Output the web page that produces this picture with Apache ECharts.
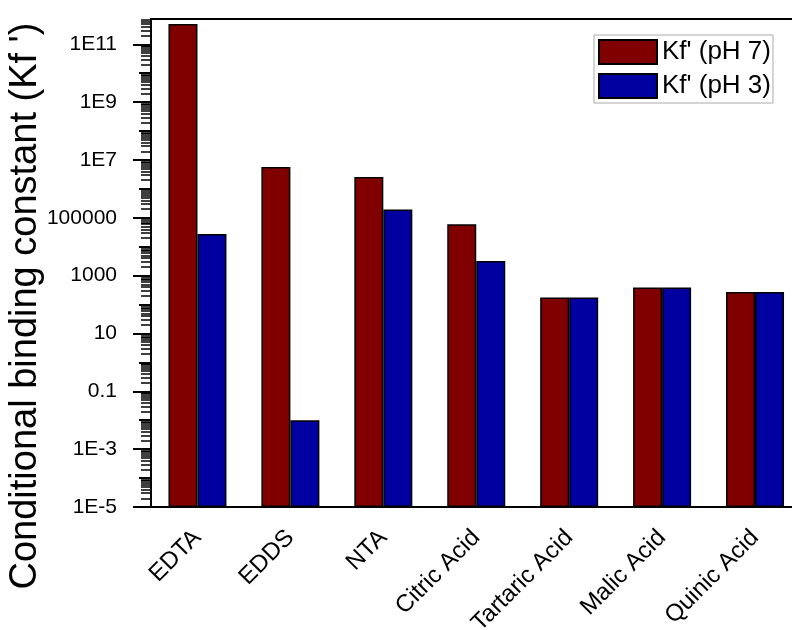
<!DOCTYPE html>
<html>
<head>
<meta charset="utf-8">
<script src="https://cdn.jsdelivr.net/npm/echarts@6/dist/echarts.min.js"></script>
<style>
  html, body { margin: 0; padding: 0; background: #fff; }
  #chart { width: 792px; height: 630px; }
</style>
</head>
<body>
<div id="chart"></div>
<script>
// Conditional binding constants of the chelators at two pH values
const categories = ['EDTA', 'EDDS', 'NTA', 'Citric Acid', 'Tartaric Acid', 'Malic Acid', 'Quinic Acid'];
const kfPH7 = [5.0e11, 5.7e6, 2.6e6, 6.0e4, 176, 390, 270];
const kfPH3 = [2.75e4, 0.01, 1.95e5, 3.2e3, 176, 390, 270];
const seriesNames = ["Kf' (pH 7)", "Kf' (pH 3)"];

// Log axis range and tick positions
const yMin = 1e-5;
const yMax = 7.5e11;
const labelTicks = [1e-5, 1e-3, 0.1, 10, 1000, 1e5, 1e7, 1e9, 1e11];
const decadeTicks = [1e-4, 1e-2, 1, 100, 1e4, 1e6, 1e8, 1e10];
const minorTicks = [];
for (let k = -5; k <= 11; k++) {
  for (let m = 2; m <= 9; m++) {
    const v = Number((m + 'e' + k));
    if (v <= yMax) minorTicks.push(v);
  }
}

function formatTick(v) {
  const e = Math.round(Math.log10(v));
  if (e >= -1 && e <= 5) return String(Number(('1e' + e)));
  return '1E' + e;
}

const font = 'Liberation Sans, Arial, sans-serif';

function logAxis(extra) {
  return Object.assign({
    type: 'log',
    logBase: 10,
    min: yMin,
    max: yMax,
    position: 'left',
    offset: 0,
    splitLine: { show: false },
    minorTick: { show: false },
    axisLine: { show: true, lineStyle: { color: '#000', width: 2 } },
    axisLabel: { show: false },
    axisTick: { show: false }
  }, extra);
}

const chart = echarts.init(document.getElementById('chart'), null, { renderer: 'canvas' });

chart.setOption({
  animation: false,
  backgroundColor: '#fff',
  grid: {
    left: 151, top: 19, right: -9.5, bottom: 123,
    show: true, borderColor: '#000', borderWidth: 2,
    containLabel: false,
    outerBoundsMode: 'none'
  },
  legend: {
    orient: 'vertical',
    left: 594,
    top: 35,
    padding: [4, 2, 4, 4],
    icon: 'rect',
    itemWidth: 58,
    itemHeight: 24,
    itemGap: 8,
    borderColor: '#aaa',
    borderWidth: 1,
    backgroundColor: '#fff',
    textStyle: { fontFamily: font, fontSize: 26, color: '#000', lineHeight: 24 },
    data: seriesNames
  },
  xAxis: {
    type: 'category',
    data: categories,
    axisLine: { show: true, lineStyle: { color: '#000', width: 2 } },
    axisTick: { show: false },
    axisLabel: {
      rotate: 45,
      margin: 27,
      interval: 0,
      fontFamily: font,
      fontSize: 24,
      color: '#000'
    },
    splitLine: { show: false }
  },
  yAxis: [
    logAxis({
      startValue: yMin,
      name: "Conditional binding constant (Kf ')",
      nameLocation: 'middle',
      nameRotate: 90,
      nameGap: 106,
      nameMoveOverlap: false,
      nameTextStyle: { fontFamily: font, fontSize: 38, color: '#000', padding: [0, 86, 0, 0] },
      axisLabel: {
        show: true,
        customValues: labelTicks,
        formatter: formatTick,
        margin: 34,
        fontFamily: font,
        fontSize: 21,
        color: '#000'
      },
      axisTick: { show: true, customValues: labelTicks, length: 18, lineStyle: { color: '#000', width: 2 } }
    }),
    logAxis({
      axisTick: { show: true, customValues: decadeTicks, length: 12, lineStyle: { color: '#000', width: 2 } }
    }),
    logAxis({
      axisTick: { show: true, customValues: minorTicks, length: 10, lineStyle: { color: '#000', width: 1.5 } }
    })
  ],
  series: [
    {
      name: seriesNames[0],
      type: 'bar',
      yAxisIndex: 0,
      data: kfPH7,
      barWidth: 29,
      barGap: '0%',
      itemStyle: { color: '#800000', borderColor: '#000', borderWidth: 1.5 }
    },
    {
      name: seriesNames[1],
      type: 'bar',
      yAxisIndex: 0,
      data: kfPH3,
      barWidth: 29,
      barGap: '0%',
      itemStyle: { color: '#0000a0', borderColor: '#000', borderWidth: 1.5 }
    }
  ]
});
</script>
</body>
</html>
